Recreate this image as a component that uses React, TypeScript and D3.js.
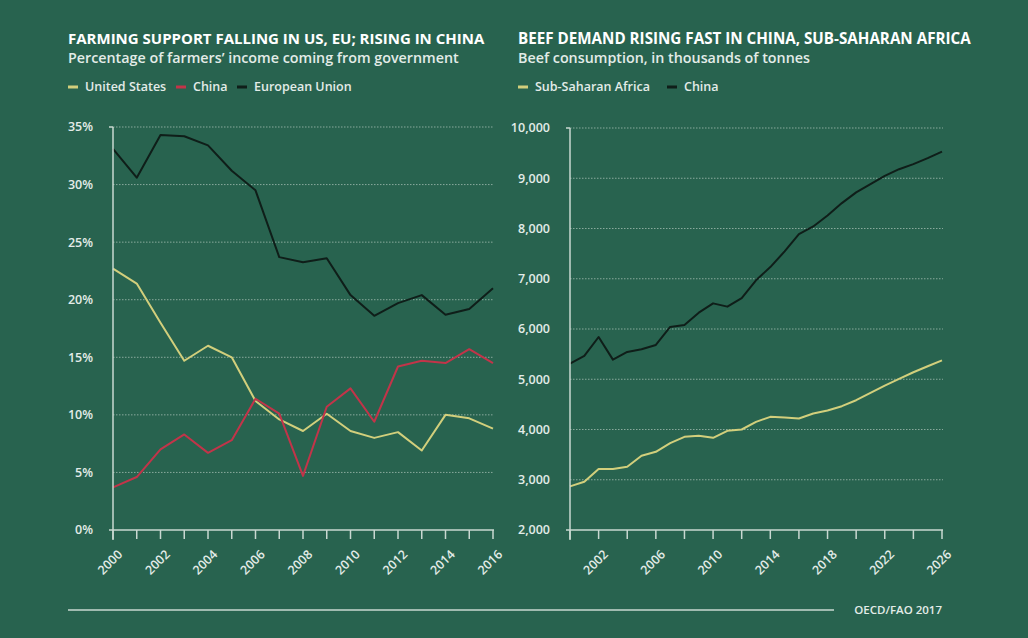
import React from 'react';
import * as d3 from 'd3';

// left chart: share of farmers' income from government (%)
const supportYears = d3.range(2000, 2017);
const usSupport = [22.7, 21.4, 18.0, 14.7, 16.0, 15.0, 11.2, 9.6, 8.6, 10.1, 8.6, 8.0, 8.5, 6.9, 10.0, 9.7, 8.8];
const chinaSupport = [3.7, 4.6, 7.0, 8.3, 6.7, 7.8, 11.4, 10.1, 4.7, 10.7, 12.3, 9.4, 14.2, 14.7, 14.5, 15.7, 14.5];
const euSupport = [33.1, 30.6, 34.3, 34.2, 33.4, 31.2, 29.5, 23.7, 23.25, 23.6, 20.4, 18.6, 19.7, 20.4, 18.7, 19.2, 21.0];
const supportTicks = [0, 5, 10, 15, 20, 25, 30, 35];

// right chart: beef consumption, thousand tonnes
const beefYears = d3.range(2000, 2027);
const africaBeef = [2868, 2960, 3212, 3212, 3258, 3477, 3556, 3728, 3854, 3874, 3834, 3974, 4000, 4152, 4252, 4238, 4219, 4318, 4377, 4464, 4583, 4728, 4874, 5007, 5139, 5258, 5377];
const chinaBeef = [5311, 5464, 5841, 5390, 5543, 5596, 5682, 6040, 6080, 6325, 6510, 6445, 6615, 6970, 7232, 7544, 7890, 8040, 8260, 8506, 8718, 8885, 9046, 9180, 9280, 9400, 9529];
const beefTicks = [2000, 3000, 4000, 5000, 6000, 7000, 8000, 9000, 10000];

const BG = '#28634f';
const AXIS = '#c9d8d1';
const LABEL = '#e3ece8';
const GOLD = '#d2cf7c';
const RED = '#c23449';
const DARK = '#0f1e19';
const FONT = "'Open Sans', sans-serif";

type Series = { name: string; color: string; values: number[] };

function Panel({ x0, x1, y0, y1, years, xDomain, yDomain, yTicks, yFmt, xTickEvery, labelYears, series }: {
  x0: number; x1: number; y0: number; y1: number; years: number[]; xDomain: [number, number];
  yDomain: [number, number]; yTicks: number[]; yFmt: (v: number) => string;
  xTickEvery: number; labelYears: number[]; series: Series[];
}) {
  const x = d3.scaleLinear().domain(xDomain).range([x0, x1]);
  const y = d3.scaleLinear().domain(yDomain).range([y0, y1]);
  const line = d3.line<number>().x((_, i) => x(years[i])).y(d => y(d));
  const ticks = d3.range(xDomain[0], xDomain[1] + 1, xTickEvery);
  const gridEnd = x1 + 1;
  return (
    <g>
      {yTicks.map(t => (
        <g key={t}>
          {t !== yDomain[0] && (
            <line x1={x0} x2={gridEnd} y1={y(t)} y2={y(t)} stroke={AXIS} strokeOpacity={0.6} strokeWidth={1} strokeDasharray="1.5,1.5" />
          )}
          <text x={x0 - 20} y={y(t)} dy="0.35em" textAnchor="end" fill={LABEL} fontSize={12.5} fontFamily={FONT} fontWeight={600}>
            {yFmt(t)}
          </text>
        </g>
      ))}
      {series.map(s => (
        <path key={s.name} d={line(s.values) ?? ''} fill="none" stroke={s.color} strokeWidth={2} strokeLinejoin="round" />
      ))}
      <line x1={x0} x2={x0} y1={y(yDomain[1])} y2={y0 + 10} stroke={AXIS} strokeWidth={1.5} />
      <line x1={x0 - 4} x2={x0} y1={y(yDomain[1])} y2={y(yDomain[1])} stroke={AXIS} strokeWidth={1.5} />
      <line x1={x0 - 4} x2={gridEnd} y1={y0} y2={y0} stroke={AXIS} strokeWidth={1.5} />
      {ticks.map(t => (
        <line key={t} x1={x(t)} x2={x(t)} y1={y0} y2={y0 + 9} stroke={AXIS} strokeWidth={1.5} />
      ))}
      {labelYears.map(t => (
        <text key={t} transform={`translate(${x(t) + 4},${y0 + 19}) rotate(-45)`} textAnchor="end" dy="0.7em"
          fill={LABEL} fontSize={12.5} fontFamily={FONT} fontWeight={600}>
          {t}
        </text>
      ))}
    </g>
  );
}

function Legend({ x, y, items }: { x: number; y: number; items: { name: string; color: string; w: number }[] }) {
  let cx = x;
  return (
    <g>
      {items.map(it => {
        const g = (
          <g key={it.name} transform={`translate(${cx},${y})`}>
            <rect x={0} y={-1.5} width={10} height={3} fill={it.color} />
            <text x={17} dy="0.35em" fill={LABEL} fontSize={12.5} fontFamily={FONT} fontWeight={600}>{it.name}</text>
          </g>
        );
        cx += it.w;
        return g;
      })}
    </g>
  );
}

export default function App() {
  return (
    <svg width={1028} height={638} style={{ display: 'block', position: 'absolute', left: 0, top: 0 }}>
      <rect width={1028} height={638} fill={BG} />
      <text x={68} y={44} fill="#ffffff" fontSize={15} fontWeight={700} fontFamily={FONT}>FARMING SUPPORT FALLING IN US, EU; RISING IN CHINA</text>
      <text x={68} y={63} fill={LABEL} fontSize={14.3} fontWeight={600} fontFamily={FONT}>Percentage of farmers’ income coming from government</text>
      <text x={518} y={44} fill="#ffffff" fontSize={15.2} fontWeight={700} fontFamily={FONT}>BEEF DEMAND RISING FAST IN CHINA, SUB-SAHARAN AFRICA</text>
      <text x={518} y={63} fill={LABEL} fontSize={14.3} fontWeight={600} fontFamily={FONT}>Beef consumption, in thousands of tonnes</text>
      <Legend x={68} y={87} items={[
        { name: 'United States', color: GOLD, w: 108 },
        { name: 'China', color: RED, w: 61 },
        { name: 'European Union', color: DARK, w: 120 },
      ]} />
      <Legend x={518} y={87} items={[
        { name: 'Sub-Saharan Africa', color: GOLD, w: 149 },
        { name: 'China', color: DARK, w: 60 },
      ]} />
      <Panel x0={113} x1={493} y0={530} y1={127} years={supportYears} xDomain={[2000, 2016]} yDomain={[0, 35]}
        yTicks={supportTicks} yFmt={v => `${v}%`} xTickEvery={1} labelYears={d3.range(2000, 2017, 2)}
        series={[
          { name: 'US', color: GOLD, values: usSupport },
          { name: 'China', color: RED, values: chinaSupport },
          { name: 'EU', color: DARK, values: euSupport },
        ]} />
      <Panel x0={570} x1={942} y0={530} y1={128} years={beefYears} xDomain={[2000, 2026]} yDomain={[2000, 10000]}
        yTicks={beefTicks} yFmt={d3.format(',')} xTickEvery={2} labelYears={d3.range(2002, 2027, 4)}
        series={[
          { name: 'Africa', color: GOLD, values: africaBeef },
          { name: 'China', color: DARK, values: chinaBeef },
        ]} />
      <line x1={68} x2={834} y1={610} y2={610} stroke={AXIS} strokeWidth={1.5} />
      <text x={942} y={610} dy="0.35em" textAnchor="end" fill={LABEL} fontSize={11.5} fontWeight={600} fontFamily={FONT}>OECD/FAO 2017</text>
    </svg>
  );
}
